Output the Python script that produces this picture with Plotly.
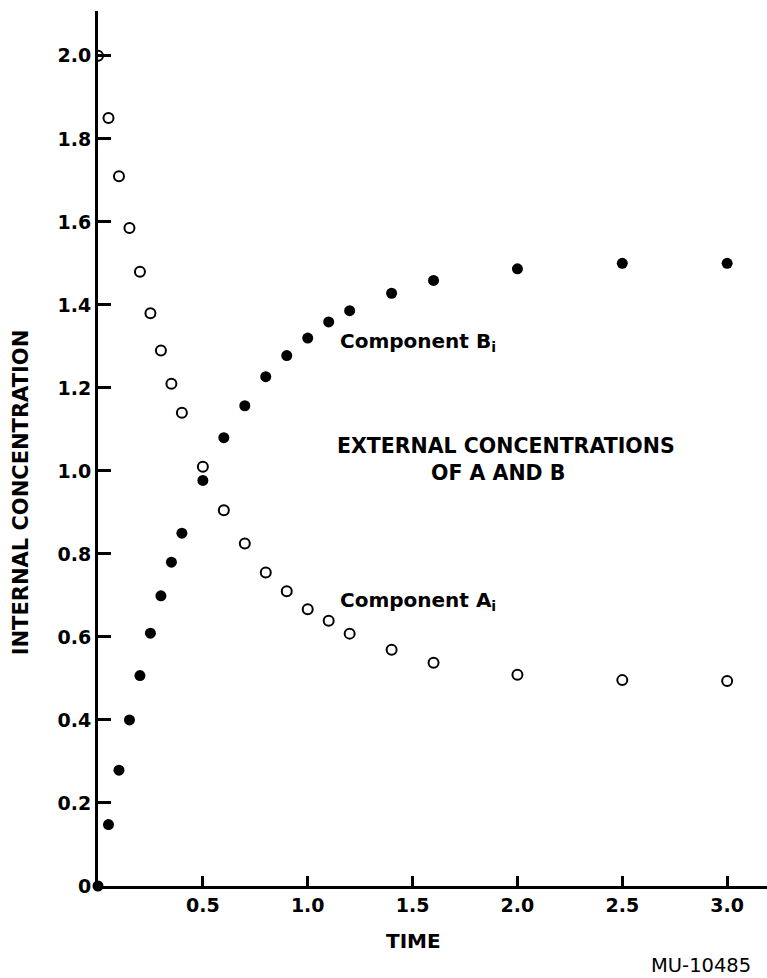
import plotly.graph_objects as go

# ---- data ----
time = [0, 0.05, 0.1, 0.15, 0.2, 0.25, 0.3, 0.35, 0.4, 0.5, 0.6, 0.7, 0.8, 0.9,
        1.0, 1.1, 1.2, 1.4, 1.6, 2.0, 2.5, 3.0]
component_a = [2.0, 1.85, 1.71, 1.585, 1.48, 1.38, 1.29, 1.21, 1.14, 1.01, 0.905,
               0.825, 0.755, 0.71, 0.667, 0.639, 0.608, 0.569, 0.538, 0.509, 0.496, 0.494]
component_b = [0.0, 0.148, 0.279, 0.40, 0.507, 0.609, 0.699, 0.78, 0.85, 0.977, 1.08,
               1.157, 1.227, 1.278, 1.32, 1.359, 1.386, 1.428, 1.459, 1.487, 1.50, 1.50]

x_tickvals = [0.5, 1.0, 1.5, 2.0, 2.5, 3.0]
x_ticktext = ["0.5", "1.0", "1.5", "2.0", "2.5", "3.0"]
y_tickvals = [0, 0.2, 0.4, 0.6, 0.8, 1.0, 1.2, 1.4, 1.6, 1.8, 2.0]
y_ticktext = ["0", "0.2", "0.4", "0.6", "0.8", "1.0", "1.2", "1.4", "1.6", "1.8", "2.0"]

FONT = "DejaVu Sans"

fig = go.Figure()
fig.add_trace(go.Scatter(
    x=time, y=component_a, mode="markers", name="Component A",
    marker=dict(symbol="circle-open", size=10, color="black", line=dict(width=2, color="black")),
    cliponaxis=True, showlegend=False))
fig.add_trace(go.Scatter(
    x=time, y=component_b, mode="markers", name="Component B",
    marker=dict(symbol="circle", size=11, color="black"),
    cliponaxis=False, showlegend=False))

axis_common = dict(
    showline=True, linecolor="black", linewidth=3, mirror=False,
    ticks="inside", tickcolor="black", tickwidth=2.5,
    showgrid=False, zeroline=False,
    tickfont=dict(family=FONT, size=19, color="black", weight="bold"),
)

fig.update_xaxes(range=[0, 3.19], tickvals=x_tickvals, ticktext=x_ticktext,
                 ticklen=10, **axis_common)
fig.update_yaxes(range=[0, 2.108], tickvals=y_tickvals, ticktext=y_ticktext,
                 ticklen=13, ticklabelstandoff=0, **axis_common)

ann_font = dict(family=FONT, size=20, color="black", weight="bold")
fig.add_annotation(x=1.145, y=1.311, xref="x", yref="y", text="Component B<sub>i</sub>",
                   showarrow=False, xanchor="left", yanchor="middle", font=ann_font)
fig.add_annotation(x=1.145, y=0.687, xref="x", yref="y", text="Component A<sub>i</sub>",
                   showarrow=False, xanchor="left", yanchor="middle", font=ann_font)
fig.add_annotation(x=1.947, y=1.060, xref="x", yref="y", text="EXTERNAL CONCENTRATIONS",
                   showarrow=False, xanchor="center", yanchor="middle",
                   font=dict(family=FONT, size=20.5, color="black", weight="bold"))
fig.add_annotation(x=1.906, y=0.995, xref="x", yref="y", text="OF A AND B",
                   showarrow=False, xanchor="center", yanchor="middle",
                   font=dict(family=FONT, size=20.5, color="black", weight="bold"))
fig.add_annotation(x=-0.115, y=0.450, xref="paper", yref="paper", text="INTERNAL CONCENTRATION",
                   textangle=-90, showarrow=False, xanchor="center", yanchor="middle",
                   font=dict(family=FONT, size=21, color="black", weight="bold"))
fig.add_annotation(x=0.472, y=-0.063, xref="paper", yref="paper", text="TIME",
                   showarrow=False, xanchor="center", yanchor="middle",
                   font=dict(family=FONT, size=20, color="black", weight="bold"))
fig.add_annotation(x=0.979, y=-0.0905, xref="paper", yref="paper", text="MU-10485",
                   showarrow=False, xanchor="right", yanchor="middle",
                   font=dict(family=FONT, size=19.5, color="black"))

fig.update_layout(
    width=767, height=978,
    margin=dict(l=98, r=0, t=11, b=92),
    paper_bgcolor="white", plot_bgcolor="white",
)

fig.write_html("out.html",
               config={"displayModeBar": False},
               post_script="document.body.style.margin='0';document.body.style.overflow='hidden';")
